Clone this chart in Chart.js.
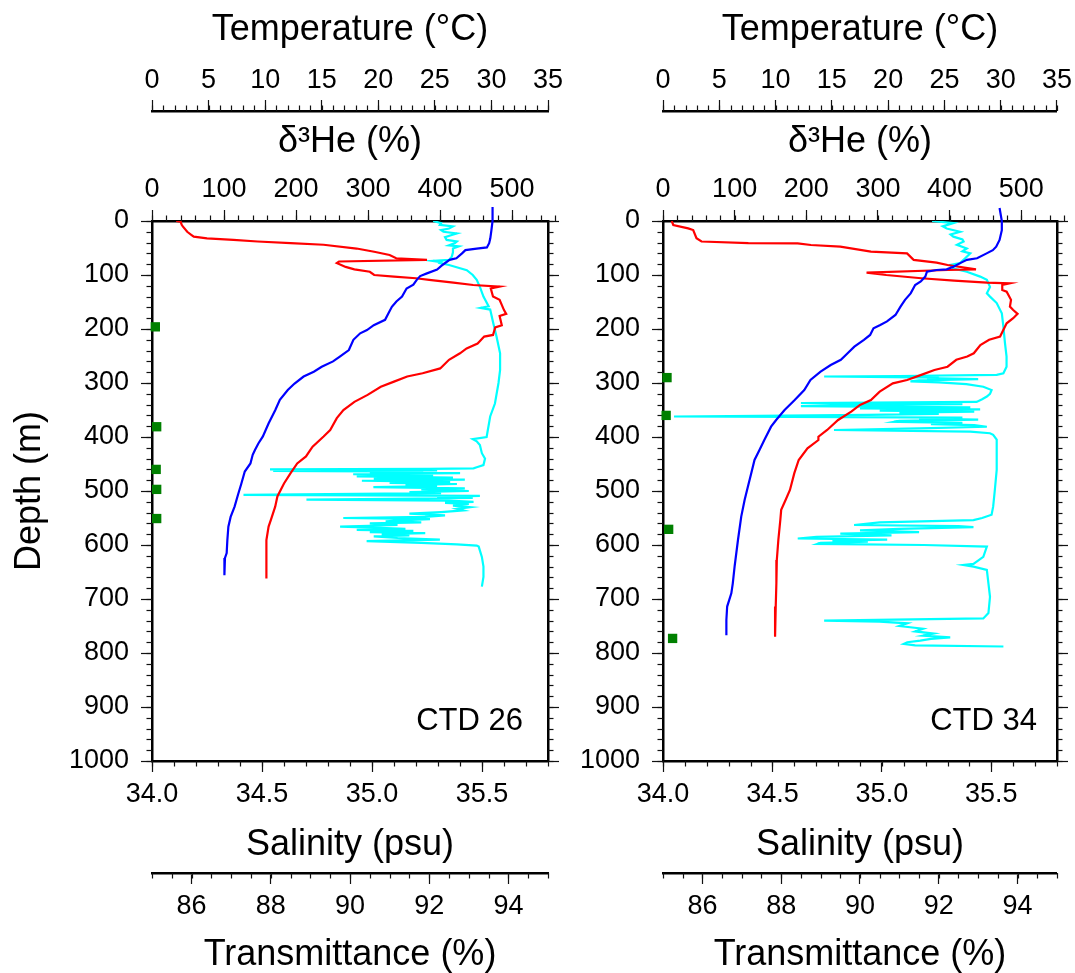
<!DOCTYPE html>
<html>
<head>
<meta charset="utf-8">
<title>CTD 26 / CTD 34 profiles</title>
<script src="https://cdn.jsdelivr.net/npm/chart.js@4.4.1/dist/chart.umd.min.js"></script>
<style>
  html, body { margin: 0; padding: 0; background: #fff; }
  #wrap { position: relative; width: 1075px; height: 973px; overflow: hidden; background: #fff; }
  canvas { position: absolute; top: 0; }
  #ctd26 { left: 0; }
  #ctd34 { left: 560px; }
</style>
</head>
<body>
<div id="wrap">
  <canvas id="ctd26" width="590" height="973"></canvas>
  <canvas id="ctd34" width="515" height="973"></canvas>
</div>
<script>
// ---- axis ticks ----
const depthTicks = [0, 100, 200, 300, 400, 500, 600, 700, 800, 900, 1000];
const temperatureTicks = [0, 5, 10, 15, 20, 25, 30, 35];
const heliumTicks = [0, 100, 200, 300, 400, 500];
const salinityTicks = [34.0, 34.5, 35.0, 35.5];
const transmittanceTicks = [86, 88, 90, 92, 94];

// ---- CTD 26 profiles: [depth (m), value] ----
const ctd26Temperature = [
  [-26, 30.1], [0, 30.1], [17, 30.0], [32, 29.9], [41, 29.8], [49, 29.6], [51, 28.7], [54, 27.7],
  [60, 27.4], [69, 26.9], [72, 26.3], [81, 25.7], [90, 25.2], [97, 24.3], [102, 23.7], [109, 23.4],
  [118, 23.1], [125, 22.5], [140, 22.1], [149, 21.6], [159, 21.2], [171, 20.9], [183, 20.6],
  [193, 19.6], [202, 19.0], [208, 18.4], [220, 17.8], [239, 17.4], [251, 16.6], [260, 16.0],
  [270, 15.0], [279, 14.3], [288, 13.4], [301, 12.6], [313, 12.0], [331, 11.3], [350, 10.9],
  [375, 10.3], [399, 9.8], [412, 9.4], [424, 9.1], [433, 8.9], [449, 8.7], [464, 8.2], [486, 7.9],
  [507, 7.6], [529, 7.3], [548, 6.95], [566, 6.75], [591, 6.66], [615, 6.6], [624, 6.45], [656, 6.4]
];
const ctd26Salinity = [
  [0, 34.11], [1, 34.13], [7, 34.135], [10, 34.14], [20, 34.16], [26, 34.18], [29, 34.19],
  [32, 34.25], [35, 34.37], [38, 34.48], [41, 34.63], [44, 34.78], [51, 34.93], [57, 35.01],
  [63, 35.08], [69, 35.11], [72, 35.25], [75, 34.85], [78, 34.84], [85, 34.88], [89.5, 34.92],
  [94, 34.99], [100, 35.01], [103, 35.10], [106, 35.20], [109, 35.26], [114, 35.37], [118.5, 35.46],
  [121.6, 35.58], [125, 35.54], [140, 35.55], [146, 35.58], [165, 35.60], [172, 35.61], [176, 35.58],
  [193, 35.59], [197, 35.56], [211, 35.55], [214, 35.51], [227, 35.48], [236, 35.43], [245, 35.40],
  [257, 35.35], [273, 35.31], [282, 35.23], [288, 35.16], [297.5, 35.10], [307, 35.04], [322, 34.98],
  [335, 34.92], [350, 34.87], [365, 34.84], [387, 34.81], [399, 34.78], [418, 34.73], [424, 34.72],
  [436, 34.70], [449, 34.66], [467, 34.63], [486, 34.60], [510, 34.57], [529, 34.56], [554, 34.54],
  [566, 34.53], [591, 34.52], [615, 34.52], [640, 34.52], [662, 34.52]
];
const ctd26Transmittance = [
  [0, 92.1], [4, 92.3], [7, 92.27], [10, 92.6], [14, 92.5], [17, 92.3], [20, 92.36], [23, 92.7],
  [26, 92.57], [30, 92.4], [35, 92.44], [38, 92.7], [41, 92.65], [45, 92.5], [47, 92.75], [51, 92.6],
  [58, 92.6], [66, 92.57], [72, 92.5], [74, 92.1], [76, 92.3], [78, 92.27], [81.5, 92.5], [91, 92.95],
  [100, 93.1], [109, 93.2], [122, 93.28], [140, 93.37], [158, 93.5], [161, 93.3], [164, 93.54],
  [190, 93.62], [214, 93.7], [245, 93.79], [276, 93.79], [300, 93.75], [338, 93.66], [362, 93.54],
  [400, 93.45], [404, 93.1], [408, 93.2], [415, 93.28], [430, 93.33], [440, 93.41], [452, 93.37],
  [456, 93.2], [458, 93.12], [459, 92.0], [460, 87.98], [461, 91.0], [462, 92.2], [463, 88.06],
  [464, 91.85], [466, 90.5], [467, 92.78], [469, 90.08], [471, 92.1], [473, 90.17], [475, 92.6],
  [477, 90.6], [479, 92.9], [481, 90.3], [483, 92.53], [485, 91.0], [487, 92.7], [489, 91.4],
  [491, 92.2], [493, 90.59], [495, 92.9], [497, 91.8], [500, 93.0], [502, 91.5], [504, 92.3],
  [507, 87.31], [509, 93.28], [511, 92.2], [513, 93.1], [516, 88.9], [518, 92.5], [520, 93.12],
  [522, 92.4], [524, 93.0], [527, 92.6], [530, 93.03], [533, 92.7], [536, 92.86], [539, 92.3],
  [542, 91.5], [545, 92.4], [548, 91.9], [550, 89.83], [552, 92.02], [554, 91.4], [556, 90.9],
  [558, 91.8], [560, 90.5], [563, 91.2], [566, 89.75], [568, 90.6], [570, 91.4], [572, 90.17],
  [574, 91.6], [576, 90.5], [578, 91.9], [580, 90.8], [582, 91.5], [584, 90.6], [587, 91.2],
  [590, 92.27], [593, 90.42], [596, 91.8], [599, 92.7], [601, 93.2], [603, 93.25], [622, 93.33],
  [640, 93.37], [659, 93.37], [677, 93.33]
];
const ctd26Helium = [[196, 4.6], [381, 6.5], [460, 5.8], [497, 6.5], [551, 6.5]];

// ---- CTD 34 profiles: [depth (m), value] ----
const ctd34Temperature = [
  [-24, 29.9], [0, 30.1], [17, 30.1], [35, 29.9], [47.5, 29.6], [54, 29.3], [60, 28.75], [69, 27.9],
  [72, 27.0], [78, 26.4], [84.6, 25.8], [89.5, 25.2], [90.7, 24.3], [93.8, 23.45], [103, 23.3],
  [112, 22.9], [118.5, 22.4], [134, 22.0], [146, 21.5], [158.6, 21.1], [174, 20.65], [186, 19.9],
  [192.6, 19.3], [198.8, 18.7], [211, 18.4], [220, 17.85], [232.7, 17.0], [245, 16.4], [257, 15.8],
  [266.7, 14.9], [279, 14.0], [294.4, 13.1], [313, 12.55], [331.5, 11.7], [350, 10.8], [368.5, 10.05],
  [380.9, 9.6], [405.6, 9.0], [424, 8.57], [442.6, 8.13], [467, 7.84], [492, 7.54], [516.7, 7.25],
  [547.5, 6.95], [590.7, 6.66], [640, 6.36], [671, 6.2], [689.5, 6.07], [714, 5.7], [739, 5.63],
  [767, 5.63]
];
const ctd34Salinity = [
  [0, 34.04], [7.4, 34.047], [13.6, 34.115], [16.7, 34.138], [32, 34.153], [38, 34.176], [41, 34.39],
  [41.4, 34.615], [44.4, 34.676], [47.5, 34.81], [56.8, 34.95], [60, 35.115], [72, 35.145], [77, 35.25],
  [81.5, 35.30], [89.5, 35.43], [90.7, 35.30], [95.7, 34.93], [100, 35.02], [106, 35.18], [110.5, 35.33],
  [114, 35.48], [115.4, 35.585], [118.5, 35.55], [127.8, 35.55], [130.9, 35.57], [146, 35.59],
  [158.6, 35.585], [164.8, 35.60], [172, 35.62], [180, 35.60], [189.5, 35.57], [214, 35.54], [220, 35.49],
  [229.6, 35.45], [245, 35.42], [251, 35.39], [257, 35.34], [269.8, 35.30], [276, 35.24], [285, 35.18],
  [294.4, 35.115], [300.6, 35.05], [316, 34.99], [331.5, 34.95], [340.7, 34.90], [353, 34.86],
  [368.5, 34.80], [387, 34.75], [399.4, 34.71], [405.6, 34.71], [421, 34.66], [442.6, 34.62],
  [467, 34.60], [498, 34.58], [516.7, 34.56], [535, 34.54], [553.7, 34.536], [590.7, 34.527],
  [627.8, 34.52], [671, 34.518], [714, 34.515], [770, 34.512]
];
const ctd34Transmittance = [
  [0, 91.83], [4, 92.37], [10, 92.1], [14, 92.2], [20, 92.54], [25, 92.3], [29, 92.37], [34, 92.6],
  [38, 92.63], [44, 92.46], [51, 92.71], [56, 92.6], [60, 92.8], [69, 92.67], [78, 92.54],
  [81.5, 92.29], [88, 92.37], [94, 92.71], [103, 93.05], [109, 93.22], [122, 93.3], [134, 93.22],
  [140, 93.3], [152, 93.47], [171, 93.6], [196, 93.64], [226, 93.68], [251, 93.72], [270, 93.72],
  [282, 93.64], [285, 93.47], [287, 91.0], [288, 89.09], [290, 92.0], [291, 91.7], [293, 93.0],
  [295, 91.5], [297, 91.28], [299, 92.0], [302, 92.7], [307, 93.13], [313, 93.34], [320, 93.3],
  [325, 93.22], [330, 93.1], [335, 92.96], [337, 88.5], [339, 92.6], [341, 89.5], [343, 88.5],
  [345, 92.8], [347, 90.0], [349, 93.05], [351, 90.5], [353, 92.9], [355, 91.0], [357, 92.0],
  [359, 90.2], [362, 85.28], [364, 92.6], [366, 91.5], [368, 93.0], [370, 91.0], [372, 90.86],
  [374, 92.6], [376, 91.8], [378, 92.9], [381, 93.22], [384, 91.5], [387, 89.34], [390, 92.8],
  [393, 93.3], [396, 93.38], [405, 93.47], [440, 93.47], [461, 93.47], [500, 93.42], [529, 93.38],
  [544, 93.34], [550, 93.1], [554, 92.88], [558, 90.5], [563, 89.85], [565, 92.5], [567, 92.88],
  [570, 91.0], [573, 90.0], [576, 91.5], [579, 89.5], [582, 90.8], [585, 88.9], [588, 88.42],
  [590, 90.69], [592, 89.3], [594, 90.2], [596, 89.0], [598, 88.92], [600, 91.62], [603, 93.22],
  [622, 93.13], [635, 92.88], [637, 92.63], [640, 92.88], [646, 93.22], [671, 93.26], [696, 93.3],
  [726, 93.26], [736, 93.13], [740, 89.09], [742, 90.5], [745, 91.2], [750, 91.0], [755, 91.6],
  [760, 91.4], [764, 91.87], [768, 91.6], [771, 92.29], [774, 91.8], [777, 91.53], [780, 91.2],
  [783, 91.11], [786, 91.4], [788, 93.64]
];
const ctd34Helium = [[290, 5.6], [360, 4.4], [571, 7.9], [773, 13.4]];

// ---- drawing ----
const FONT = '"Liberation Sans", Arial, Helvetica, sans-serif';
Chart.defaults.font.family = FONT;
Chart.defaults.color = '#000';

const toPoints = pairs => pairs.map(([depth, value]) => ({ x: value, y: depth }));
const fixedTicks = values => scale => { scale.ticks = values.map(v => ({ value: v })); };

const TICK_FONT = { size: 27, lineHeight: 1.2 };
const TITLE_FONT = { size: 36, lineHeight: 1 };
const BORDER = { display: true, color: '#000', width: 2.5 };
const GRID = { drawOnChartArea: false, drawTicks: true, tickLength: 11, tickColor: '#111', tickWidth: 1.2 };

function hAxis(o) {
  return {
    type: 'linear', axis: 'x', position: o.position, weight: o.weight,
    min: o.min, max: o.max,
    afterBuildTicks: fixedTicks(o.majors),
    afterFit: s => { s.height = o.height; },
    grid: GRID,
    border: BORDER,
    ticks: {
      autoSkip: false, maxRotation: 0, minRotation: 0, padding: o.tickPad,
      font: TICK_FONT, color: '#000',
      callback: o.format || (v => String(v))
    },
    title: { display: true, text: o.title, font: TITLE_FONT, color: '#000', padding: o.titlePad }
  };
}

function vAxis(o) {
  return {
    type: 'linear', axis: 'y', position: o.position, reverse: true, min: 0, max: 1000,
    afterBuildTicks: fixedTicks(depthTicks),
    afterFit: s => { s.width = o.width; },
    grid: GRID,
    border: BORDER,
    ticks: { display: o.labels, padding: 12, font: TICK_FONT, color: '#000', callback: v => String(v) },
    title: { display: !!o.title, text: o.title || '', font: TITLE_FONT, color: '#000', padding: { top: 12, bottom: 0 } }
  };
}

// short unlabelled ticks between the labelled ones
const minorTicks = {
  id: 'minorTicks',
  beforeDatasetsDraw(chart, args, opts) {
    const ctx = chart.ctx;
    ctx.save();
    ctx.strokeStyle = opts.color;
    ctx.lineWidth = opts.width;
    for (const [id, step] of Object.entries(opts.steps)) {
      const s = chart.scales[id];
      if (!s) continue;
      const n = Math.round((s.max - s.min) / step);
      for (let i = 0; i <= n; i++) {
        const p = Math.round(s.getPixelForValue(s.min + i * step)) + 0.5;
        ctx.beginPath();
        if (s.position === 'top') { ctx.moveTo(p, s.bottom); ctx.lineTo(p, s.bottom - opts.length); }
        else if (s.position === 'bottom') { ctx.moveTo(p, s.top); ctx.lineTo(p, s.top + opts.length); }
        else if (s.position === 'left') { ctx.moveTo(s.right, p); ctx.lineTo(s.right - opts.length, p); }
        else { ctx.moveTo(s.left, p); ctx.lineTo(s.left + opts.length, p); }
        ctx.stroke();
      }
    }
    ctx.restore();
  }
};

// station name in the lower right corner of the plot box
const stationLabel = {
  id: 'stationLabel',
  afterDatasetsDraw(chart, args, opts) {
    const { ctx, chartArea } = chart;
    ctx.save();
    ctx.font = opts.size + 'px ' + FONT;
    ctx.fillStyle = '#000';
    ctx.textAlign = 'right';
    ctx.textBaseline = 'middle';
    ctx.fillText(opts.text, chartArea.right - opts.dx, chartArea.bottom - opts.dy);
    ctx.restore();
  }
};

function profileChart(canvasId, p) {
  const line = (label, data, axisId, color, order, extra) => Object.assign({
    label, data: toPoints(data), xAxisID: axisId, yAxisID: 'y',
    showLine: true, borderColor: color, backgroundColor: color, borderWidth: 2.2,
    pointRadius: 0, pointHoverRadius: 0, tension: 0, order
  }, extra || {});

  return new Chart(document.getElementById(canvasId), {
    type: 'scatter',
    data: {
      datasets: [
        {
          label: 'δ³He', data: toPoints(p.helium), xAxisID: 'xHe', yAxisID: 'y',
          showLine: false, pointStyle: 'rect', pointRadius: 6.6, pointHoverRadius: 6.6,
          backgroundColor: '#008000', borderWidth: 0, clip: false, order: 0
        },
        line('Temperature', p.temperature, 'xT', '#0000ff', 1, { clip: false }),
        line('Salinity', p.salinity, 'xS', '#ff0000', 2),
        line('Transmittance', p.transmittance, 'xTr', '#00ffff', 3)
      ]
    },
    options: {
      responsive: false,
      animation: false,
      devicePixelRatio: 1,
      events: [],
      layout: { padding: 0 },
      scales: {
        xT: hAxis({ position: 'top', weight: 2, min: 0, max: 35, majors: temperatureTicks, height: 111,
                    tickPad: 3, title: 'Temperature (°C)', titlePad: { top: 12, bottom: 0 } }),
        xHe: hAxis({ position: 'top', weight: 1, min: 0, max: 550, majors: heliumTicks, height: 110,
                     tickPad: 4, title: 'δ³He (%)', titlePad: { top: 13, bottom: 0 } }),
        xS: hAxis({ position: 'bottom', weight: 1, min: 34.0, max: 35.8, majors: salinityTicks, height: 112,
                    tickPad: 6, title: 'Salinity (psu)', titlePad: { top: 0, bottom: 10 },
                    format: v => v.toFixed(1) }),
        xTr: hAxis({ position: 'bottom', weight: 2, min: 85, max: 95, majors: transmittanceTicks, height: 100,
                     tickPad: 6, title: 'Transmittance (%)', titlePad: { top: 0, bottom: 0 } }),
        y: vAxis({ position: 'left', width: p.leftWidth, labels: true, title: p.depthTitle }),
        yR: vAxis({ position: 'right', width: p.rightWidth, labels: false })
      },
      plugins: {
        legend: { display: false },
        tooltip: { enabled: false },
        minorTicks: {
          steps: { xT: 1, xHe: 20, xS: 0.1, xTr: 0.5, y: 20, yR: 20 },
          length: 5.5, color: '#111', width: 1.2
        },
        stationLabel: { text: p.station, size: 31, dx: p.labelDx, dy: 40 }
      }
    },
    plugins: [minorTicks, stationLabel]
  });
}

// the two canvases overlap slightly; both are transparent
profileChart('ctd26', {
  temperature: ctd26Temperature, salinity: ctd26Salinity,
  transmittance: ctd26Transmittance, helium: ctd26Helium,
  leftWidth: 152, rightWidth: 42, depthTitle: 'Depth (m)', station: 'CTD 26', labelDx: 25
});
profileChart('ctd34', {
  temperature: ctd34Temperature, salinity: ctd34Salinity,
  transmittance: ctd34Transmittance, helium: ctd34Helium,
  leftWidth: 103, rightWidth: 16, depthTitle: null, station: 'CTD 34', labelDx: 20
});
</script>
</body>
</html>
